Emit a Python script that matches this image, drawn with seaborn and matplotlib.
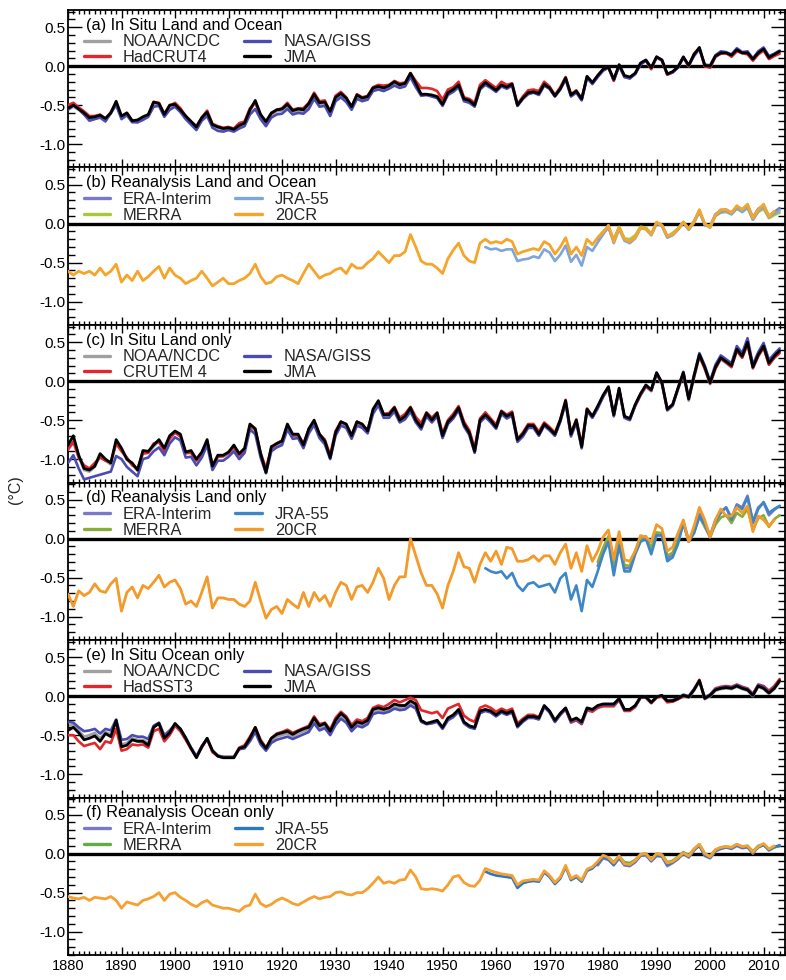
import numpy as np
import pandas as pd
import matplotlib
matplotlib.use("Agg")
import matplotlib.pyplot as plt
import seaborn as sns
from matplotlib.ticker import MultipleLocator, FormatStrFormatter

# ---------------- data (anomalies, degC) ----------------
first_year = 1880
last_year = 2013

# (a) In situ land and ocean
a_noaa = """-0.56 -0.52 -0.56 -0.62 -0.67 -0.66 -0.64 -0.69 -0.61 -0.47
-0.66 -0.62 -0.71 -0.70 -0.66 -0.63 -0.48 -0.49 -0.63 -0.52
-0.50 -0.57 -0.66 -0.72 -0.79 -0.68 -0.61 -0.76 -0.79 -0.81
-0.80 -0.82 -0.77 -0.74 -0.58 -0.46 -0.64 -0.72 -0.62 -0.58
-0.57 -0.51 -0.59 -0.57 -0.58 -0.50 -0.38 -0.49 -0.48 -0.60
-0.42 -0.37 -0.43 -0.54 -0.39 -0.43 -0.41 -0.30 -0.28 -0.30
-0.27 -0.22 -0.26 -0.24 -0.11 -0.24 -0.37 -0.37 -0.38 -0.40
-0.50 -0.35 -0.31 -0.25 -0.43 -0.45 -0.51 -0.29 -0.22 -0.27
-0.32 -0.25 -0.28 -0.24 -0.51 -0.42 -0.35 -0.34 -0.36 -0.24
-0.29 -0.39 -0.30 -0.16 -0.38 -0.33 -0.43 -0.14 -0.22 -0.13
-0.05 -0.02 -0.18 0.01 -0.13 -0.15 -0.10 0.03 0.07 -0.03
0.11 0.07 -0.11 -0.08 -0.02 0.11 0.00 0.14 0.23 0.00
-0.01 0.12 0.16 0.16 0.13 0.20 0.16 0.16 0.08 0.16
0.21 0.10 0.14 0.18"""
a_hadcrut4 = """-0.50 -0.47 -0.53 -0.58 -0.64 -0.64 -0.62 -0.68 -0.59 -0.47
-0.65 -0.60 -0.70 -0.72 -0.66 -0.63 -0.46 -0.47 -0.61 -0.51
-0.47 -0.54 -0.64 -0.71 -0.77 -0.66 -0.57 -0.74 -0.77 -0.79
-0.78 -0.80 -0.73 -0.71 -0.54 -0.47 -0.63 -0.74 -0.61 -0.56
-0.54 -0.47 -0.56 -0.54 -0.54 -0.47 -0.34 -0.45 -0.44 -0.59
-0.38 -0.33 -0.40 -0.52 -0.36 -0.40 -0.38 -0.27 -0.24 -0.25
-0.24 -0.19 -0.22 -0.21 -0.09 -0.19 -0.28 -0.28 -0.29 -0.32
-0.43 -0.30 -0.27 -0.20 -0.40 -0.42 -0.47 -0.24 -0.18 -0.23
-0.28 -0.20 -0.24 -0.22 -0.49 -0.39 -0.31 -0.30 -0.32 -0.20
-0.26 -0.37 -0.27 -0.14 -0.36 -0.31 -0.42 -0.14 -0.22 -0.12
-0.04 -0.01 -0.19 0.01 -0.14 -0.15 -0.10 0.03 0.07 -0.04
0.12 0.07 -0.11 -0.08 -0.01 0.11 0.00 0.16 0.23 0.00
-0.02 0.12 0.16 0.17 0.12 0.19 0.17 0.15 0.07 0.15
0.20 0.09 0.13 0.16"""
a_giss = """-0.56 -0.50 -0.55 -0.62 -0.70 -0.68 -0.66 -0.71 -0.60 -0.50
-0.68 -0.63 -0.72 -0.72 -0.69 -0.65 -0.52 -0.51 -0.65 -0.56
-0.52 -0.59 -0.68 -0.75 -0.82 -0.70 -0.64 -0.79 -0.83 -0.84
-0.82 -0.84 -0.80 -0.77 -0.62 -0.55 -0.68 -0.77 -0.66 -0.62
-0.61 -0.55 -0.62 -0.60 -0.61 -0.55 -0.42 -0.52 -0.51 -0.64
-0.45 -0.40 -0.46 -0.56 -0.42 -0.45 -0.43 -0.32 -0.30 -0.32
-0.29 -0.25 -0.28 -0.26 -0.14 -0.27 -0.38 -0.37 -0.39 -0.41
-0.51 -0.37 -0.33 -0.27 -0.45 -0.47 -0.52 -0.30 -0.24 -0.28
-0.33 -0.26 -0.29 -0.25 -0.51 -0.42 -0.36 -0.34 -0.37 -0.25
-0.29 -0.39 -0.30 -0.17 -0.39 -0.34 -0.44 -0.15 -0.23 -0.14
-0.06 -0.02 -0.18 0.00 -0.14 -0.16 -0.10 0.02 0.07 -0.02
0.11 0.08 -0.10 -0.08 -0.02 0.11 0.01 0.13 0.22 0.02
0.01 0.14 0.19 0.18 0.15 0.23 0.18 0.19 0.10 0.19
0.24 0.13 0.16 0.20"""
a_jma = """-0.54 -0.50 -0.55 -0.60 -0.66 -0.65 -0.63 -0.67 -0.60 -0.45
-0.64 -0.60 -0.70 -0.69 -0.65 -0.62 -0.46 -0.48 -0.62 -0.50
-0.49 -0.56 -0.64 -0.71 -0.78 -0.66 -0.59 -0.75 -0.78 -0.80
-0.79 -0.81 -0.76 -0.73 -0.56 -0.44 -0.62 -0.71 -0.60 -0.56
-0.55 -0.49 -0.57 -0.55 -0.56 -0.48 -0.36 -0.47 -0.46 -0.58
-0.40 -0.35 -0.41 -0.52 -0.37 -0.41 -0.39 -0.28 -0.26 -0.28
-0.25 -0.20 -0.24 -0.22 -0.09 -0.22 -0.36 -0.36 -0.37 -0.39
-0.49 -0.34 -0.30 -0.24 -0.42 -0.44 -0.50 -0.28 -0.21 -0.26
-0.31 -0.24 -0.27 -0.23 -0.50 -0.41 -0.34 -0.33 -0.35 -0.23
-0.28 -0.38 -0.29 -0.15 -0.37 -0.32 -0.42 -0.13 -0.21 -0.12
-0.04 -0.01 -0.17 0.02 -0.12 -0.14 -0.09 0.04 0.08 -0.02
0.12 0.08 -0.10 -0.07 -0.01 0.12 0.01 0.15 0.24 0.01
0.00 0.13 0.17 0.17 0.14 0.21 0.17 0.17 0.09 0.17
0.22 0.11 0.15 0.19"""

# (b) Reanalysis land and ocean
b_era = """-0.20
-0.12 -0.05 -0.22 -0.05 -0.20 -0.22 -0.17 -0.05 -0.06 -0.14
0.01 -0.02 -0.17 -0.13 -0.07 0.02 -0.07 0.03 0.17 -0.02
-0.03 0.12 0.17 0.18 0.14 0.22 0.18 0.24 0.08 0.19
0.23 0.10 0.15 0.20"""
b_merra = """-0.18
-0.10 -0.04 -0.20 -0.04 -0.19 -0.20 -0.15 -0.04 -0.05 -0.13
0.00 -0.02 -0.16 -0.12 -0.06 0.02 -0.06 0.03 0.16 -0.01
-0.03 0.10 0.14 0.15 0.12 0.19 0.15 0.20 0.05 0.15
0.19 0.07 0.11 0.14"""
b_jra55 = """-0.30 -0.33
-0.32 -0.35 -0.33 -0.33 -0.48 -0.46 -0.45 -0.42 -0.44 -0.33
-0.37 -0.48 -0.40 -0.28 -0.49 -0.40 -0.54 -0.30 -0.35 -0.24
-0.14 -0.04 -0.25 -0.07 -0.22 -0.25 -0.19 -0.06 -0.07 -0.15
0.00 -0.03 -0.18 -0.15 -0.08 0.01 -0.08 0.01 0.15 -0.01
-0.05 0.10 0.15 0.16 0.12 0.20 0.15 0.21 0.05 0.16
0.22 0.08 0.13 0.17"""
b_20cr = """-0.61 -0.66 -0.61 -0.64 -0.61 -0.66 -0.57 -0.66 -0.61 -0.52
-0.75 -0.66 -0.73 -0.61 -0.73 -0.68 -0.61 -0.55 -0.70 -0.57
-0.66 -0.70 -0.77 -0.73 -0.70 -0.61 -0.70 -0.80 -0.75 -0.70
-0.77 -0.77 -0.73 -0.70 -0.64 -0.52 -0.68 -0.77 -0.75 -0.68
-0.66 -0.70 -0.73 -0.77 -0.64 -0.52 -0.61 -0.70 -0.66 -0.64
-0.59 -0.57 -0.64 -0.52 -0.57 -0.57 -0.50 -0.45 -0.36 -0.43
-0.50 -0.41 -0.41 -0.36 -0.14 -0.30 -0.48 -0.52 -0.52 -0.57
-0.64 -0.45 -0.34 -0.25 -0.41 -0.48 -0.50 -0.25 -0.20 -0.25
-0.23 -0.25 -0.20 -0.23 -0.39 -0.36 -0.34 -0.32 -0.34 -0.23
-0.27 -0.39 -0.30 -0.18 -0.39 -0.30 -0.41 -0.20 -0.27 -0.18
-0.11 -0.02 -0.23 -0.05 -0.20 -0.23 -0.18 -0.05 -0.07 -0.14
0.02 -0.02 -0.16 -0.14 -0.07 0.02 -0.07 0.02 0.18 0.00
-0.05 0.11 0.18 0.18 0.14 0.23 0.18 0.25 0.07 0.18
0.25 0.09 0.16"""

# (c) In situ land only
c_noaa = """-0.86 -0.74 -0.97 -1.14 -1.16 -1.10 -0.96 -1.02 -1.07 -0.78
-0.88 -1.01 -1.07 -1.15 -0.91 -0.92 -0.84 -0.77 -0.88 -0.72
-0.66 -0.70 -0.93 -0.91 -1.02 -0.93 -0.77 -1.10 -0.97 -0.97
-0.93 -0.84 -0.95 -0.88 -0.57 -0.63 -0.95 -1.18 -0.86 -0.82
-0.79 -0.57 -0.70 -0.70 -0.84 -0.63 -0.52 -0.70 -0.79 -0.99
-0.68 -0.54 -0.57 -0.72 -0.54 -0.57 -0.66 -0.38 -0.27 -0.45
-0.45 -0.36 -0.52 -0.47 -0.36 -0.52 -0.61 -0.43 -0.52 -0.43
-0.72 -0.54 -0.47 -0.36 -0.57 -0.68 -0.91 -0.52 -0.45 -0.52
-0.61 -0.41 -0.47 -0.43 -0.77 -0.70 -0.59 -0.59 -0.70 -0.57
-0.63 -0.70 -0.52 -0.27 -0.70 -0.52 -0.86 -0.38 -0.47 -0.34
-0.20 -0.09 -0.45 -0.11 -0.47 -0.50 -0.32 -0.18 -0.07 -0.13
0.09 -0.04 -0.38 -0.32 -0.11 0.09 -0.25 0.05 0.32 0.16
-0.04 0.16 0.28 0.23 0.18 0.39 0.30 0.48 0.16 0.32
0.43 0.21 0.30 0.37"""
c_crutem4 = """-0.88 -0.78 -0.98 -1.08 -1.12 -1.05 -0.98 -1.02 -1.04 -0.80
-0.90 -0.98 -1.08 -1.12 -0.93 -0.92 -0.80 -0.78 -0.90 -0.74
-0.66 -0.71 -0.92 -0.92 -1.02 -0.93 -0.77 -1.08 -0.97 -0.96
-0.92 -0.85 -0.95 -0.88 -0.58 -0.62 -0.92 -1.12 -0.86 -0.80
-0.76 -0.57 -0.70 -0.69 -0.80 -0.62 -0.52 -0.68 -0.75 -0.95
-0.64 -0.52 -0.56 -0.69 -0.52 -0.57 -0.62 -0.38 -0.27 -0.42
-0.41 -0.33 -0.47 -0.42 -0.33 -0.46 -0.54 -0.40 -0.47 -0.40
-0.67 -0.50 -0.42 -0.32 -0.52 -0.63 -0.86 -0.48 -0.40 -0.48
-0.56 -0.38 -0.43 -0.39 -0.74 -0.66 -0.55 -0.55 -0.65 -0.53
-0.59 -0.66 -0.49 -0.24 -0.67 -0.49 -0.82 -0.35 -0.45 -0.33
-0.20 -0.09 -0.44 -0.11 -0.46 -0.48 -0.32 -0.18 -0.07 -0.12
0.10 -0.03 -0.35 -0.30 -0.10 0.10 -0.22 0.05 0.32 0.16
-0.03 0.16 0.29 0.24 0.18 0.39 0.30 0.47 0.17 0.32
0.43 0.21 0.30 0.36"""
c_giss = """-1.05 -0.95 -1.12 -1.26 -1.24 -1.22 -1.20 -1.18 -1.16 -0.96
-1.00 -1.10 -1.16 -1.22 -1.00 -0.98 -0.90 -0.85 -0.95 -0.80
-0.72 -0.76 -0.98 -0.97 -1.08 -0.98 -0.82 -1.14 -1.02 -1.02
-0.97 -0.90 -1.00 -0.92 -0.62 -0.68 -0.98 -1.18 -0.90 -0.85
-0.82 -0.62 -0.74 -0.73 -0.86 -0.67 -0.56 -0.73 -0.81 -1.00
-0.70 -0.57 -0.60 -0.74 -0.57 -0.60 -0.67 -0.42 -0.31 -0.47
-0.47 -0.39 -0.53 -0.49 -0.39 -0.53 -0.62 -0.45 -0.53 -0.45
-0.73 -0.55 -0.48 -0.37 -0.58 -0.69 -0.92 -0.53 -0.46 -0.53
-0.61 -0.42 -0.48 -0.44 -0.78 -0.71 -0.60 -0.60 -0.70 -0.57
-0.63 -0.70 -0.52 -0.28 -0.71 -0.53 -0.86 -0.38 -0.47 -0.35
-0.20 -0.08 -0.45 -0.10 -0.47 -0.50 -0.31 -0.17 -0.05 -0.12
0.10 -0.02 -0.37 -0.31 -0.09 0.12 -0.22 0.08 0.36 0.20
0.00 0.21 0.33 0.28 0.23 0.45 0.36 0.55 0.21 0.37
0.49 0.27 0.35 0.42"""
c_jma = """-0.82 -0.70 -0.95 -1.12 -1.14 -1.09 -0.93 -1.00 -1.05 -0.75
-0.86 -1.00 -1.05 -1.14 -0.89 -0.90 -0.82 -0.75 -0.86 -0.70
-0.64 -0.68 -0.91 -0.89 -1.00 -0.91 -0.75 -1.09 -0.95 -0.95
-0.91 -0.82 -0.93 -0.86 -0.55 -0.61 -0.93 -1.17 -0.84 -0.80
-0.77 -0.55 -0.68 -0.68 -0.82 -0.61 -0.50 -0.68 -0.77 -0.98
-0.66 -0.52 -0.55 -0.70 -0.52 -0.55 -0.64 -0.36 -0.25 -0.43
-0.43 -0.34 -0.50 -0.45 -0.34 -0.50 -0.59 -0.41 -0.50 -0.41
-0.70 -0.52 -0.45 -0.34 -0.55 -0.66 -0.90 -0.50 -0.43 -0.50
-0.59 -0.39 -0.45 -0.41 -0.75 -0.68 -0.57 -0.57 -0.68 -0.55
-0.61 -0.68 -0.50 -0.25 -0.68 -0.50 -0.84 -0.36 -0.45 -0.32
-0.18 -0.07 -0.43 -0.09 -0.45 -0.48 -0.30 -0.16 -0.05 -0.11
0.11 -0.02 -0.36 -0.30 -0.09 0.11 -0.23 0.07 0.34 0.18
-0.02 0.18 0.30 0.25 0.20 0.41 0.32 0.50 0.18 0.34
0.45 0.23 0.32 0.39"""

# (d) Reanalysis land only
d_era = """-0.35
-0.15 0.02 -0.40 -0.05 -0.38 -0.38 -0.18 -0.02 0.02 -0.15
0.07 0.06 -0.25 -0.20 -0.04 0.22 -0.02 0.09 0.32 0.20
0.04 0.24 0.35 0.40 0.27 0.44 0.40 0.55 0.22 0.40
0.46 0.30 0.37 0.42"""
d_merra = """-0.30
-0.12 0.03 -0.35 -0.03 -0.34 -0.35 -0.16 0.00 0.03 -0.12
0.08 0.07 -0.22 -0.18 -0.02 0.20 -0.03 0.08 0.28 0.15
0.02 0.18 0.27 0.30 0.20 0.33 0.28 0.38 0.12 0.26
0.30 0.15 0.25 0.30"""
d_jra55 = """-0.38 -0.42
-0.44 -0.42 -0.51 -0.44 -0.60 -0.67 -0.58 -0.56 -0.62 -0.60
-0.58 -0.69 -0.51 -0.44 -0.78 -0.60 -0.93 -0.53 -0.62 -0.42
-0.20 -0.04 -0.47 -0.09 -0.42 -0.42 -0.20 -0.04 0.00 -0.20
0.04 0.04 -0.29 -0.24 -0.07 0.20 -0.04 0.07 0.29 0.18
0.02 0.22 0.33 0.40 0.24 0.42 0.38 0.53 0.20 0.38
0.47 0.33 0.38 0.42"""
d_20cr = """-0.71 -0.87 -0.67 -0.73 -0.69 -0.58 -0.67 -0.69 -0.58 -0.51
-0.93 -0.69 -0.62 -0.76 -0.60 -0.64 -0.56 -0.47 -0.62 -0.56
-0.53 -0.64 -0.84 -0.80 -0.87 -0.69 -0.49 -0.89 -0.76 -0.76
-0.78 -0.78 -0.84 -0.87 -0.80 -0.56 -0.80 -1.02 -0.91 -0.87
-0.96 -0.78 -0.84 -0.89 -0.69 -0.87 -0.69 -0.80 -0.73 -0.87
-0.69 -0.56 -0.60 -0.78 -0.62 -0.60 -0.69 -0.56 -0.38 -0.51
-0.78 -0.60 -0.49 -0.49 0.00 -0.22 -0.44 -0.60 -0.60 -0.71
-0.89 -0.60 -0.42 -0.18 -0.36 -0.38 -0.56 -0.33 -0.18 -0.29
-0.16 -0.33 -0.11 -0.13 -0.29 -0.29 -0.27 -0.22 -0.29 -0.22
-0.22 -0.33 -0.18 -0.07 -0.38 -0.18 -0.42 -0.09 -0.29 -0.16
0.02 0.11 -0.27 0.09 -0.27 -0.29 -0.16 0.04 0.02 -0.04
0.18 0.13 -0.16 -0.11 0.07 0.24 -0.04 0.16 0.40 0.24
0.02 0.24 0.38 0.29 0.29 0.40 0.33 0.42 0.09 0.29
0.24 0.16 0.24"""

# (e) In situ ocean only
e_noaa = """-0.38 -0.37 -0.44 -0.52 -0.50 -0.47 -0.54 -0.46 -0.49 -0.32
-0.62 -0.60 -0.54 -0.56 -0.56 -0.60 -0.40 -0.35 -0.53 -0.46
-0.36 -0.42 -0.54 -0.67 -0.78 -0.65 -0.54 -0.70 -0.77 -0.79
-0.79 -0.79 -0.68 -0.66 -0.56 -0.43 -0.60 -0.68 -0.57 -0.52
-0.50 -0.48 -0.52 -0.48 -0.45 -0.43 -0.31 -0.41 -0.38 -0.47
-0.34 -0.25 -0.31 -0.42 -0.35 -0.37 -0.33 -0.20 -0.18 -0.19
-0.17 -0.13 -0.15 -0.14 -0.09 -0.13 -0.32 -0.35 -0.34 -0.32
-0.41 -0.29 -0.25 -0.18 -0.34 -0.39 -0.41 -0.20 -0.18 -0.20
-0.25 -0.20 -0.23 -0.20 -0.39 -0.32 -0.27 -0.27 -0.29 -0.13
-0.20 -0.32 -0.23 -0.16 -0.32 -0.29 -0.34 -0.16 -0.18 -0.13
-0.11 -0.11 -0.11 -0.04 -0.18 -0.18 -0.13 -0.02 -0.02 -0.09
-0.02 0.00 -0.07 -0.07 -0.04 0.00 -0.02 0.07 0.19 -0.04
0.00 0.07 0.09 0.10 0.09 0.12 0.09 0.07 0.00 0.12
0.09 0.03 0.09 0.18"""
e_hadsst3 = """-0.50 -0.50 -0.58 -0.64 -0.62 -0.60 -0.68 -0.58 -0.60 -0.42
-0.70 -0.68 -0.62 -0.63 -0.62 -0.66 -0.45 -0.42 -0.58 -0.50
-0.38 -0.45 -0.56 -0.68 -0.78 -0.66 -0.55 -0.72 -0.77 -0.78
-0.78 -0.78 -0.66 -0.63 -0.52 -0.40 -0.56 -0.66 -0.54 -0.48
-0.46 -0.43 -0.47 -0.44 -0.41 -0.38 -0.26 -0.36 -0.34 -0.43
-0.28 -0.20 -0.26 -0.37 -0.30 -0.32 -0.28 -0.15 -0.12 -0.14
-0.10 -0.05 -0.08 -0.05 -0.02 -0.05 -0.18 -0.20 -0.22 -0.20
-0.28 -0.16 -0.13 -0.10 -0.25 -0.30 -0.33 -0.15 -0.12 -0.15
-0.20 -0.16 -0.19 -0.16 -0.35 -0.29 -0.24 -0.24 -0.27 -0.13
-0.20 -0.33 -0.24 -0.17 -0.34 -0.31 -0.36 -0.18 -0.20 -0.15
-0.13 -0.13 -0.13 -0.05 -0.19 -0.19 -0.14 -0.02 -0.02 -0.09
-0.02 0.00 -0.08 -0.07 -0.04 0.00 -0.01 0.09 0.21 -0.02
0.02 0.10 0.12 0.13 0.12 0.15 0.12 0.10 0.03 0.15
0.13 0.07 0.13 0.22"""
e_giss = """-0.33 -0.34 -0.40 -0.45 -0.44 -0.42 -0.48 -0.42 -0.44 -0.30
-0.56 -0.55 -0.50 -0.52 -0.52 -0.55 -0.38 -0.34 -0.50 -0.44
-0.36 -0.42 -0.53 -0.66 -0.77 -0.64 -0.55 -0.70 -0.76 -0.78
-0.78 -0.78 -0.68 -0.67 -0.58 -0.46 -0.62 -0.70 -0.60 -0.56
-0.54 -0.52 -0.55 -0.52 -0.49 -0.46 -0.35 -0.44 -0.41 -0.50
-0.37 -0.29 -0.34 -0.45 -0.38 -0.40 -0.36 -0.23 -0.21 -0.22
-0.20 -0.16 -0.18 -0.17 -0.12 -0.16 -0.33 -0.36 -0.35 -0.33
-0.42 -0.31 -0.27 -0.20 -0.35 -0.40 -0.42 -0.22 -0.19 -0.21
-0.26 -0.21 -0.24 -0.21 -0.40 -0.33 -0.28 -0.28 -0.30 -0.14
-0.21 -0.33 -0.24 -0.16 -0.33 -0.29 -0.35 -0.16 -0.18 -0.13
-0.11 -0.11 -0.11 -0.04 -0.18 -0.17 -0.13 -0.02 -0.01 -0.08
-0.01 0.01 -0.06 -0.05 -0.03 0.02 0.00 0.09 0.19 -0.02
0.02 0.09 0.11 0.12 0.11 0.14 0.11 0.09 0.02 0.14
0.12 0.05 0.11 0.19"""
e_jma = """-0.44 -0.40 -0.47 -0.56 -0.54 -0.51 -0.58 -0.48 -0.52 -0.31
-0.65 -0.63 -0.56 -0.58 -0.58 -0.63 -0.40 -0.35 -0.54 -0.47
-0.35 -0.42 -0.54 -0.67 -0.79 -0.65 -0.54 -0.70 -0.77 -0.79
-0.79 -0.79 -0.67 -0.65 -0.54 -0.40 -0.58 -0.67 -0.54 -0.49
-0.47 -0.45 -0.49 -0.45 -0.42 -0.40 -0.28 -0.38 -0.35 -0.45
-0.31 -0.22 -0.28 -0.40 -0.33 -0.35 -0.31 -0.17 -0.15 -0.17
-0.15 -0.10 -0.12 -0.12 -0.06 -0.10 -0.31 -0.35 -0.33 -0.31
-0.40 -0.28 -0.24 -0.17 -0.33 -0.38 -0.40 -0.19 -0.17 -0.19
-0.24 -0.19 -0.22 -0.19 -0.38 -0.31 -0.26 -0.26 -0.28 -0.12
-0.19 -0.31 -0.22 -0.15 -0.31 -0.28 -0.33 -0.15 -0.17 -0.12
-0.10 -0.10 -0.10 -0.03 -0.17 -0.17 -0.12 -0.01 -0.01 -0.08
-0.01 0.01 -0.06 -0.06 -0.03 0.01 -0.01 0.08 0.20 -0.03
0.01 0.08 0.10 0.11 0.10 0.13 0.10 0.08 0.01 0.13
0.10 0.04 0.10 0.20"""

# (f) Reanalysis ocean only
f_era = """-0.15
-0.06 -0.08 -0.15 -0.06 -0.15 -0.16 -0.11 -0.03 -0.02 -0.10
-0.03 -0.04 -0.16 -0.12 -0.07 0.00 -0.05 0.04 0.11 -0.03
-0.06 0.03 0.06 0.08 0.06 0.10 0.07 0.08 0.00 0.09
0.12 0.04 0.08 0.11"""
f_merra = """-0.12
-0.04 -0.05 -0.11 -0.03 -0.11 -0.12 -0.08 -0.01 0.00 -0.07
0.00 -0.01 -0.11 -0.09 -0.04 0.02 -0.02 0.06 0.12 0.00
-0.03 0.05 0.08 0.09 0.08 0.12 0.09 0.10 0.03 0.10
0.12 0.05 0.08 0.10"""
f_jra55 = """-0.23 -0.26
-0.28 -0.29 -0.30 -0.31 -0.44 -0.38 -0.36 -0.35 -0.36 -0.24
-0.30 -0.39 -0.32 -0.17 -0.34 -0.30 -0.36 -0.22 -0.19 -0.12
-0.04 -0.07 -0.14 -0.05 -0.14 -0.15 -0.10 -0.02 -0.01 -0.09
-0.02 -0.03 -0.14 -0.11 -0.06 0.00 -0.04 0.05 0.10 -0.02
-0.05 0.04 0.07 0.08 0.07 0.11 0.08 0.09 0.01 0.08
0.11 0.05 0.09 0.10"""
f_20cr = """-0.55 -0.57 -0.58 -0.56 -0.60 -0.56 -0.57 -0.58 -0.55 -0.60
-0.70 -0.62 -0.64 -0.66 -0.60 -0.58 -0.55 -0.50 -0.60 -0.52
-0.50 -0.56 -0.60 -0.65 -0.68 -0.63 -0.60 -0.66 -0.68 -0.70
-0.70 -0.72 -0.74 -0.68 -0.66 -0.52 -0.64 -0.68 -0.65 -0.60
-0.57 -0.60 -0.64 -0.66 -0.62 -0.58 -0.55 -0.58 -0.56 -0.55
-0.50 -0.49 -0.52 -0.53 -0.50 -0.50 -0.45 -0.38 -0.30 -0.38
-0.36 -0.38 -0.34 -0.33 -0.21 -0.30 -0.45 -0.46 -0.45 -0.46
-0.48 -0.40 -0.30 -0.28 -0.37 -0.41 -0.42 -0.34 -0.19 -0.22
-0.24 -0.26 -0.27 -0.28 -0.40 -0.35 -0.34 -0.33 -0.34 -0.22
-0.28 -0.37 -0.30 -0.15 -0.32 -0.28 -0.34 -0.20 -0.17 -0.10
-0.02 -0.05 -0.12 -0.03 -0.13 -0.14 -0.09 -0.01 0.00 -0.08
0.00 -0.02 -0.12 -0.10 -0.05 0.01 -0.03 0.06 0.12 0.00
-0.04 0.05 0.08 0.09 0.08 0.12 0.09 0.10 0.02 0.09
0.13 0.06 0.10"""

start_insitu = 1880
start_20cr = 1880
start_jra55 = 1958
start_era = 1979
start_merra = 1979

panel_titles = ["(a) In Situ Land and Ocean", "(b) Reanalysis Land and Ocean",
                "(c) In Situ Land only", "(d) Reanalysis Land only",
                "(e) In Situ Ocean only", "(f) Reanalysis Ocean only"]
x_tick_labels = ["1880", "1890", "1900", "1910", "1920", "1930", "1940",
                 "1950", "1960", "1970", "1980", "1990", "2000", "2010"]
y_tick_values = [-1.0, -0.5, 0.0, 0.5]


def to_frame(text, start, name):
    vals = np.array(text.split(), dtype=float)
    yrs = np.arange(start, start + len(vals))
    return pd.DataFrame({"year": yrs, "anomaly": vals, "dataset": name})


# ---------------- styling ----------------
C_NOAA = "#a0a0a0"
C_HAD = "#e3262c"
C_GISS = "#4b4bb4"
C_JMA = "#000000"
C_ERA = "#7a78c8"
C_JRA = "#3d86c8"
C_20CR = "#f4a52a"

panels = [
    ("insitu", [("NOAA/NCDC", a_noaa, start_insitu, C_NOAA),
                ("HadCRUT4", a_hadcrut4, start_insitu, C_HAD),
                ("NASA/GISS", a_giss, start_insitu, C_GISS),
                ("JMA", a_jma, start_insitu, C_JMA)]),
    ("rean", [("ERA-Interim", b_era, start_era, C_ERA),
              ("MERRA", b_merra, start_merra, "#a8c83c"),
              ("JRA-55", b_jra55, start_jra55, "#7ea6da"),
              ("20CR", b_20cr, start_20cr, C_20CR)]),
    ("insitu", [("NOAA/NCDC", c_noaa, start_insitu, C_NOAA),
                ("CRUTEM 4", c_crutem4, start_insitu, C_HAD),
                ("NASA/GISS", c_giss, start_insitu, C_GISS),
                ("JMA", c_jma, start_insitu, C_JMA)]),
    ("rean", [("ERA-Interim", d_era, start_era, C_ERA),
              ("MERRA", d_merra, start_merra, "#8aac3a"),
              ("JRA-55", d_jra55, start_jra55, C_JRA),
              ("20CR", d_20cr, start_20cr, "#f39a2a")]),
    ("insitu", [("NOAA/NCDC", e_noaa, start_insitu, C_NOAA),
                ("HadSST3", e_hadsst3, start_insitu, C_HAD),
                ("NASA/GISS", e_giss, start_insitu, C_GISS),
                ("JMA", e_jma, start_insitu, C_JMA)]),
    ("rean", [("ERA-Interim", f_era, start_era, C_ERA),
              ("MERRA", f_merra, start_merra, "#5fae44"),
              ("JRA-55", f_jra55, start_jra55, "#2f78c0"),
              ("20CR", f_20cr, start_20cr, "#f5a030")]),
]

sns.set_theme(style="ticks")
plt.rcParams["font.family"] = ["Liberation Sans", "DejaVu Sans"]
plt.rcParams["axes.unicode_minus"] = False

W, H = 786, 980
fig, axes = plt.subplots(6, 1, figsize=(W / 100, H / 100), dpi=100, sharex=True)
fig.subplots_adjust(left=68 / W, right=785 / W, top=1 - 10 / H, bottom=1 - 955 / H, hspace=0)

for i, (ax, (kind, series), title) in enumerate(zip(axes, panels, panel_titles)):
    ax.axhline(0.0, color="black", lw=2.4, zorder=1)
    lws = [1.9, 1.9, 1.9, 2.0]
    handles = []
    for k, (name, txt, st, col) in enumerate(series):
        df = to_frame(txt, st, name)
        sns.lineplot(data=df, x="year", y="anomaly", ax=ax, color=col,
                     lw=lws[k], zorder=2 + k, legend=False, estimator=None)
        handles.append(plt.Line2D([], [], color=col, lw=2.4, label=name))

    ax.set_xlim(first_year, last_year + 1)
    ax.set_ylim(-1.3, 0.72)
    ax.set_ylabel("")
    ax.set_xlabel("")
    ax.yaxis.set_major_locator(MultipleLocator(0.5))
    ax.yaxis.set_minor_locator(MultipleLocator(0.1))
    ax.yaxis.set_major_formatter(FormatStrFormatter("%.1f"))
    ax.xaxis.set_major_locator(MultipleLocator(10))
    ax.xaxis.set_minor_locator(MultipleLocator(1))
    ax.tick_params(axis="both", which="both", direction="in", top=True, right=True,
                   width=1.0, colors="black")
    ax.tick_params(axis="y", which="major", length=10, labelsize=11, pad=2)
    ax.tick_params(axis="y", which="minor", length=5)
    ax.tick_params(axis="x", which="major", length=6, labelsize=10.5, pad=3)
    ax.tick_params(axis="x", which="minor", length=3)
    for sp in ax.spines.values():
        sp.set_linewidth(1.3)
        sp.set_color("black")

    ax.text(0.025, 0.903, title, transform=ax.transAxes, fontsize=11.8,
            ha="left", va="center", color="black")
    ax.legend(handles=handles, loc="upper left", bbox_to_anchor=(0.022, 0.845),
              ncol=2, frameon=False, fontsize=11.8, handlelength=1.6,
              handletextpad=0.8, columnspacing=1.4, labelspacing=0.05,
              borderpad=0.0, borderaxespad=0.0)

axes[-1].set_xticks([int(t) for t in x_tick_labels])
axes[-1].set_xticklabels(x_tick_labels)
for ax in axes:
    ax.set_yticks(y_tick_values)

fig.text(15 / W, 0.5, "(°C)", rotation=90, ha="center", va="center", fontsize=11.5)

fig.savefig("out.png", dpi=100)
